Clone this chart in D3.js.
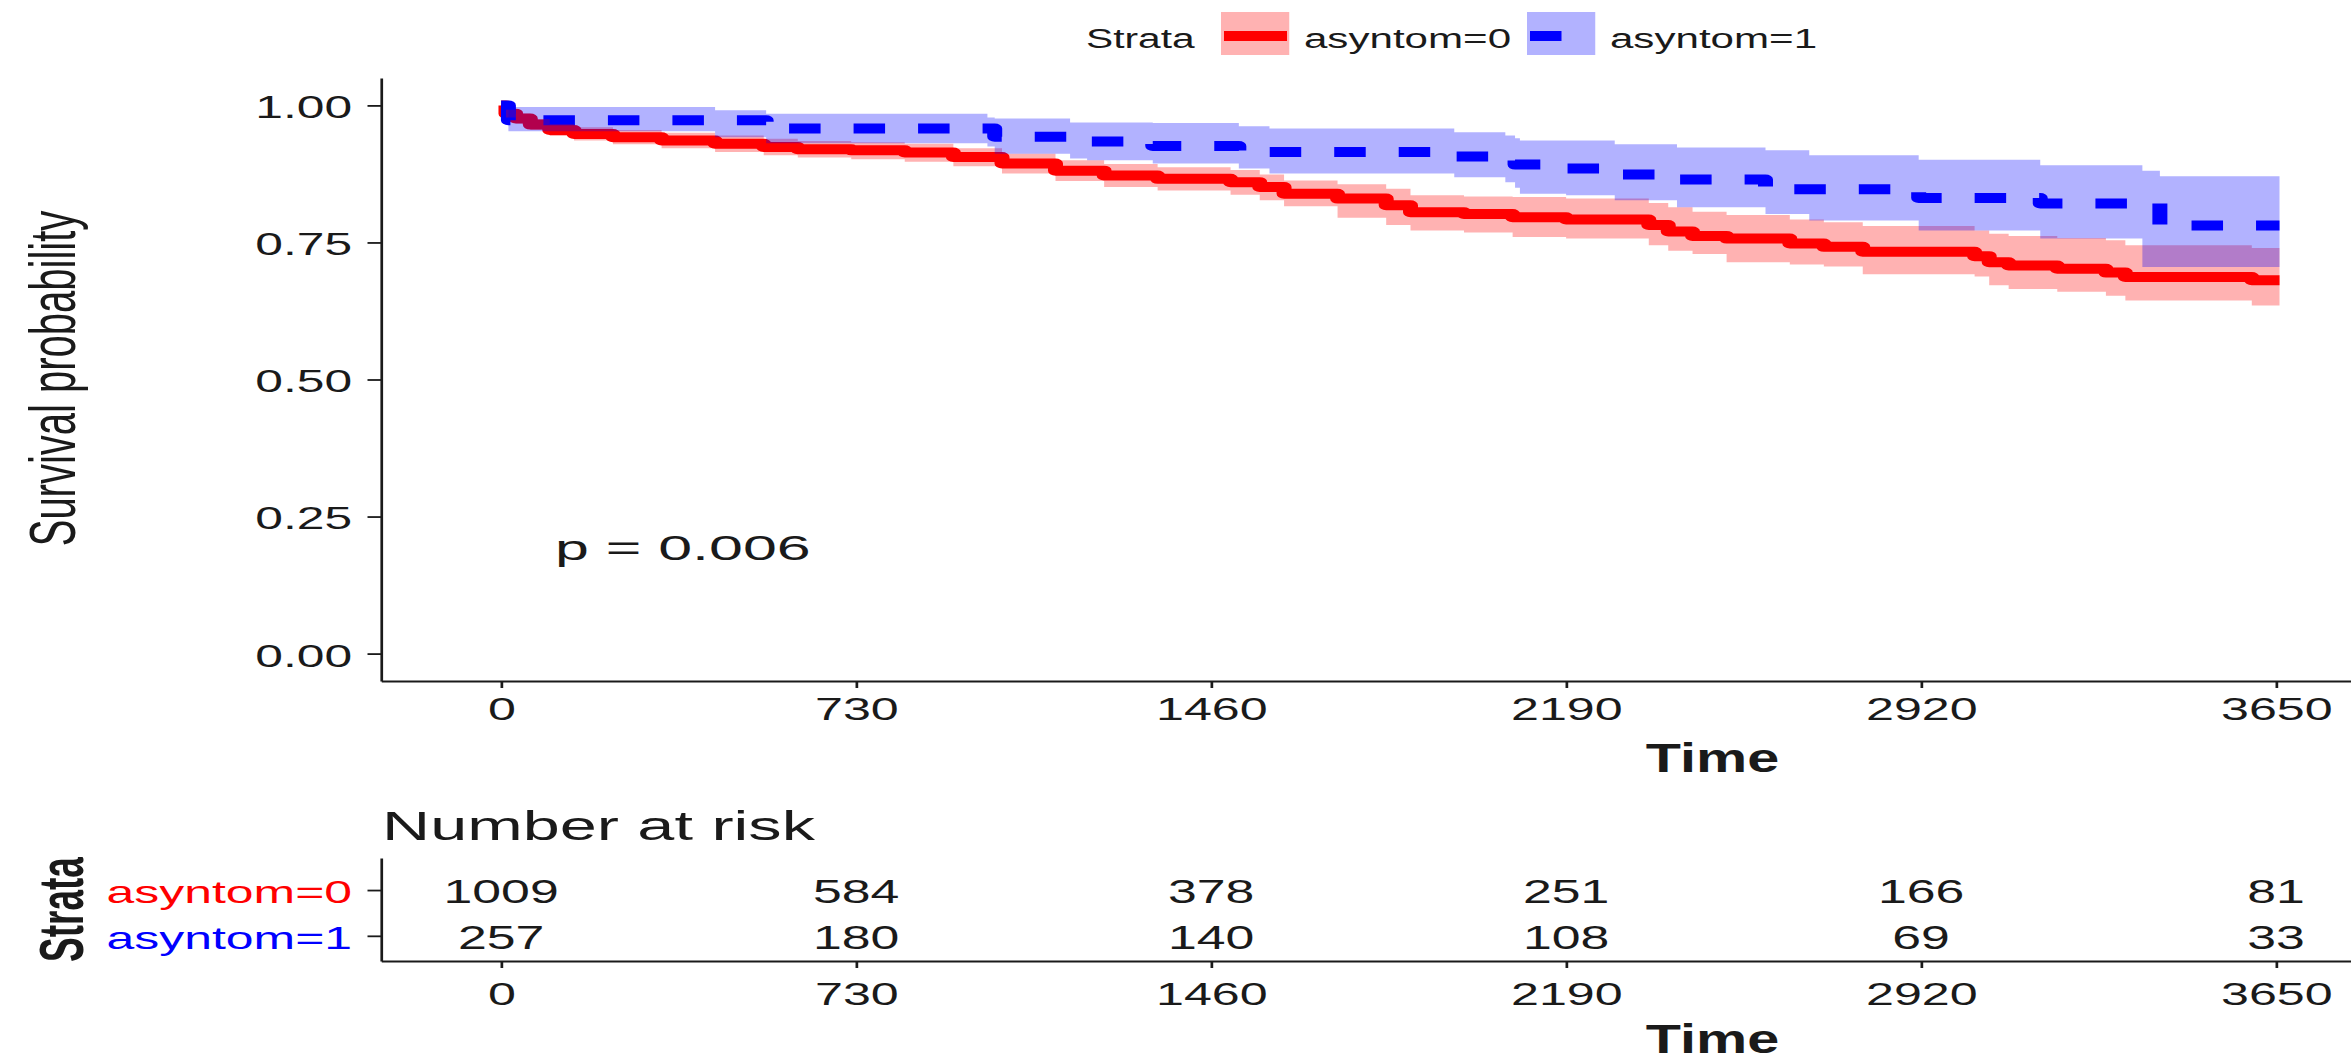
<!DOCTYPE html>
<html>
<head>
<meta charset="utf-8">
<script src="https://cdn.jsdelivr.net/npm/d3@7"></script>
<style>
  html, body { margin: 0; padding: 0; background: #fff; }
  svg { display: block; }
</style>
</head>
<body>
<script>
// ---- data ----
const strata = ["asyntom=0", "asyntom=1"];
const strataColors = ["#FF0000", "#0000FF"];
const timeTicks = [0, 730, 1460, 2190, 2920, 3650];
const survTicks = [0, 0.25, 0.5, 0.75, 1];
const maxTime = 3657;
const pValue = "p = 0.006";

// asyntom=0 (red, solid)
const time0 = [0, 10, 30, 60, 100, 150, 230, 330, 440, 540, 610, 720, 830, 930, 1030, 1140, 1240, 1350, 1500, 1560,
  1610, 1720, 1820, 1870, 1980, 2080, 2190, 2360, 2400, 2450, 2520, 2650, 2720, 2800, 3030, 3060, 3100, 3200, 3300, 3340, 3600];
const surv0 = [1.000, 0.985, 0.976, 0.965, 0.955, 0.948, 0.942, 0.936, 0.930, 0.924, 0.920, 0.918, 0.914, 0.906, 0.894, 0.881, 0.872, 0.866, 0.860, 0.851,
  0.839, 0.830, 0.818, 0.805, 0.802, 0.796, 0.792, 0.782, 0.770, 0.762, 0.757, 0.748, 0.742, 0.733, 0.725, 0.714, 0.708, 0.702, 0.695, 0.687, 0.681];
const lower0 = [1.000, 0.978, 0.967, 0.955, 0.944, 0.936, 0.929, 0.922, 0.915, 0.909, 0.905, 0.902, 0.897, 0.889, 0.876, 0.862, 0.851, 0.845, 0.837, 0.827,
  0.816, 0.795, 0.782, 0.772, 0.768, 0.760, 0.757, 0.745, 0.735, 0.729, 0.714, 0.710, 0.706, 0.692, 0.688, 0.672, 0.665, 0.660, 0.653, 0.644, 0.635];
const upper0 = [1.000, 0.992, 0.985, 0.975, 0.966, 0.960, 0.955, 0.950, 0.945, 0.939, 0.935, 0.933, 0.930, 0.922, 0.912, 0.900, 0.893, 0.887, 0.882, 0.874,
  0.863, 0.856, 0.848, 0.836, 0.834, 0.833, 0.830, 0.822, 0.814, 0.806, 0.800, 0.792, 0.787, 0.780, 0.772, 0.766, 0.762, 0.758, 0.754, 0.745, 0.740];

// asyntom=1 (blue, dashed)
const time1 = [0, 15, 440, 545, 1000, 1015, 1170, 1205, 1340, 1517, 1580, 1960, 2065, 2085, 2095, 2190, 2290, 2418, 2600, 2690, 2915, 3165, 3375, 3411];
const surv1 = [1.000, 0.973, 0.973, 0.958, 0.958, 0.943, 0.943, 0.934, 0.926, 0.915, 0.915, 0.907, 0.907, 0.892, 0.892, 0.885, 0.874, 0.865, 0.847, 0.847, 0.831, 0.821, 0.821, 0.781];
const lower1 = [1.000, 0.953, 0.942, 0.931, 0.925, 0.912, 0.903, 0.900, 0.894, 0.885, 0.876, 0.869, 0.860, 0.850, 0.839, 0.836, 0.827, 0.814, 0.802, 0.790, 0.772, 0.757, 0.705, 0.705];
const upper1 = [1.000, 0.997, 0.991, 0.985, 0.978, 0.976, 0.969, 0.969, 0.968, 0.962, 0.958, 0.951, 0.945, 0.940, 0.936, 0.936, 0.929, 0.923, 0.918, 0.909, 0.901, 0.891, 0.881, 0.871];

// number at risk at each time tick
const risk0 = [1009, 584, 378, 251, 166, 81];
const risk1 = [257, 180, 140, 108, 69, 33];

// ---- setup ----
// the picture is stretched sideways, so draw in a narrower box and let the viewBox stretch it
const W = 2351, H = 1063, stretch = 1.5;
const vw = W / stretch;
const font = "'Liberation Sans', Arial, sans-serif";
const ink = "#1a1a1a";

const svg = d3.select("body").append("svg")
    .attr("width", W)
    .attr("height", H)
    .attr("viewBox", `0 0 ${vw} ${H}`)
    .attr("preserveAspectRatio", "none")
    .style("font-family", font);

svg.append("rect").attr("width", vw).attr("height", H).attr("fill", "#fff");

// text with an extra sideways scale
function addText(str, tx, ty, size, sx, opts = {}) {
    let tr = `translate(${tx},${ty})`;
    if (opts.rotate) tr += ` rotate(-90) scale(1,${sx})`;
    else tr += ` scale(${sx},1)`;
    return svg.append("text")
        .attr("transform", tr)
        .attr("font-size", size)
        .attr("font-weight", opts.bold ? "bold" : "normal")
        .attr("text-anchor", opts.anchor || "start")
        .attr("fill", opts.fill || ink)
        .text(str);
}

function styleAxis(g, size, sx, leftAxis) {
    g.attr("font-size", null).attr("font-family", null);
    g.select(".domain").attr("stroke", ink).attr("stroke-width", 1.8);
    g.selectAll(".tick line").attr("stroke", ink).attr("stroke-width", 1.8);
    g.selectAll(".tick text")
        .attr("font-size", size)
        .attr("fill", ink)
        .attr("transform", `scale(${sx},1)`)
        .each(function() {
            if (leftAxis) d3.select(this).attr("x", +d3.select(this).attr("x") / sx);
        });
}

// ---- main survival panel ----
const x = d3.scaleLinear().domain([-247, 3804]).range([254, vw]);
const y = d3.scaleLinear().domain([-0.05, 1.05]).range([681, 78]);

const yAxis = svg.append("g")
    .attr("transform", `translate(${x.range()[0]},0)`)
    .call(d3.axisLeft(y).tickValues(survTicks).tickFormat(d3.format(".2f"))
        .tickSize(9).tickPadding(10.3).tickSizeOuter(0));
styleAxis(yAxis, 31, 1.07, true);
yAxis.selectAll(".tick text").attr("dy", "0.4em");

const xAxis = svg.append("g")
    .attr("transform", `translate(0,${y.range()[0]})`)
    .call(d3.axisBottom(x).tickValues(timeTicks).tickFormat(d3.format("d"))
        .tickSize(7).tickPadding(10).tickSizeOuter(0));
styleAxis(xAxis, 31, 1.08, false);

const series = [
    {name: strata[0], color: strataColors[0], dash: null, t: time0, s: surv0, lo: lower0, hi: upper0},
    {name: strata[1], color: strataColors[1], dash: "21,22", t: time1, s: surv1, lo: lower1, hi: upper1}
];
series.forEach(function(d) {
    d.pts = d.t.map((t, i) => ({t: t, s: d.s[i], lo: d.lo[i], hi: d.hi[i]}));
    const last = d.pts[d.pts.length - 1];
    d.pts.push({t: maxTime, s: last.s, lo: last.lo, hi: last.hi});
});

const line = d3.line().curve(d3.curveStepAfter)
    .x(d => x(d.t)).y(d => y(d.s));
const area = d3.area().curve(d3.curveStepAfter)
    .x(d => x(d.t)).y0(d => y(d.lo)).y1(d => y(d.hi));

// step lines first, ribbons on top (as survminer does)
svg.selectAll(".km-line")
    .data(series)
    .join("path")
    .attr("class", "km-line")
    .attr("fill", "none")
    .attr("stroke", d => d.color)
    .attr("stroke-width", 10)
    .attr("stroke-dasharray", d => d.dash)
    .attr("stroke-linejoin", "round")
    .attr("d", d => line(d.pts));

svg.selectAll(".km-band")
    .data(series)
    .join("path")
    .attr("class", "km-band")
    .attr("fill", d => d.color)
    .attr("fill-opacity", 0.3)
    .attr("d", d => area(d.pts));

addText(pValue, 370, 560, 35, 1.16);

// axis titles
addText("Survival probability", 50, 378.5, 40, 1.09, {rotate: true, anchor: "middle"});
addText("Time", 1141.7, 772, 40, 0.96, {bold: true, anchor: "middle"});

// ---- legend ----
addText("Strata", 724, 48, 28, 0.97);
const legendKeys = [814, 1018];
const legendLabels = [869.3, 1073.3];
series.forEach(function(d, i) {
    svg.append("rect")
        .attr("x", legendKeys[i]).attr("y", 12)
        .attr("width", 45.5).attr("height", 43)
        .attr("fill", d.color).attr("fill-opacity", 0.3);
    svg.append("line")
        .attr("x1", legendKeys[i] + 2).attr("x2", legendKeys[i] + 44)
        .attr("y1", 36).attr("y2", 36)
        .attr("stroke", d.color).attr("stroke-width", 10)
        .attr("stroke-dasharray", d.dash);
    addText(d.name, legendLabels[i], 48, 27, 1.04);
});

// ---- risk table ----
addText("Number at risk", 254.7, 840, 40, 1.11);

const yRisk = d3.scaleLinear().domain([-0.7, 1.55]).range([858, 961]);

const riskY = svg.append("g")
    .attr("transform", `translate(${x.range()[0]},0)`)
    .call(d3.axisLeft(yRisk).tickValues([0, 1]).tickFormat(i => strata[i])
        .tickSize(9).tickPadding(10.3).tickSizeOuter(0));
styleAxis(riskY, 32, 1.04, true);
riskY.selectAll(".tick text").attr("dy", "0.4em").attr("fill", (d, i) => strataColors[i]);

const riskX = svg.append("g")
    .attr("transform", `translate(0,${yRisk.range()[1]})`)
    .call(d3.axisBottom(x).tickValues(timeTicks).tickFormat(d3.format("d"))
        .tickSize(7).tickPadding(15).tickSizeOuter(0));
styleAxis(riskX, 31, 1.08, false);

[risk0, risk1].forEach(function(row, i) {
    row.forEach(function(n, j) {
        addText(n, x(timeTicks[j]), yRisk(i), 33.5, 1.03, {anchor: "middle"})
            .attr("dy", "0.38em");
    });
});

addText("Strata", 55.3, 909.5, 37, 1.15, {rotate: true, anchor: "middle", bold: true});
addText("Time", 1141.7, 1053, 40, 0.96, {bold: true, anchor: "middle"});
</script>
</body>
</html>
